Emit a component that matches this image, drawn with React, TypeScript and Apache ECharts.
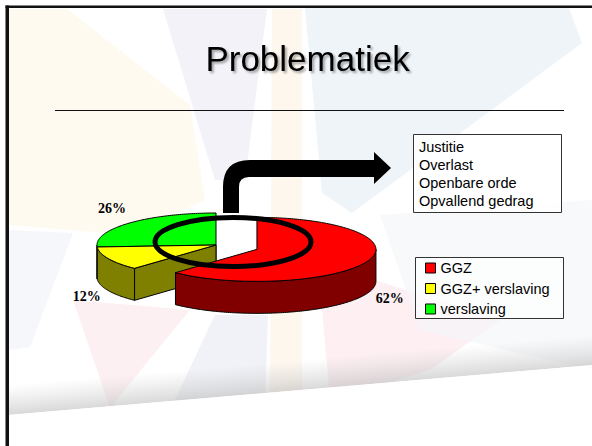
import React, { useEffect, useRef } from 'react';
import * as echarts from 'echarts';

// ---- data ----
const categories = ['GGZ', 'GGZ+ verslaving', 'verslaving'];
const values = [62, 12, 26];
const topColors = ['#ff0000', '#ffff00', '#00ff00'];
const sideColors = ['#800000', '#808000', '#008000'];
const explodedCategory = 'GGZ';
const titleText = 'Problematiek';
const noteLines = ['Justitie', 'Overlast', 'Openbare orde', 'Opvallend gedrag'];

// ---- shapes ----
const ARROW_D =
  'M223,213 L223,187 Q223,160 250,160 L374,160 L374,152 L391,168 L374,184 L374,177 L249,177 Q239,177 239,187 L239,213 Z';
echarts.graphic.registerShape('bendArrow', echarts.graphic.extendPath(ARROW_D, {}));

const CX = 216, CY = 245, RX = 119, RY = 32, DEPTH = 32, EXPLODE = 0.37;
const total = values.reduce((a, b) => a + b, 0);

function sliceGeom(i: number) {
  let cum = 0;
  for (let k = 0; k < i; k++) cum += values[k];
  const a0 = (cum / total) * Math.PI * 2;
  const a1 = ((cum + values[i]) / total) * Math.PI * 2;
  const am = (a0 + a1) / 2;
  const ex = categories[i] === explodedCategory ? EXPLODE : 0;
  const cx = CX + ex * RX * Math.sin(am);
  const cy = CY - ex * RY * Math.cos(am);
  return { a0, a1, am, cx, cy };
}

function arcPts(cx: number, cy: number, from: number, to: number, dz: number) {
  const n = Math.max(2, Math.ceil(Math.abs(to - from) / (Math.PI / 180)));
  const pts: number[][] = [];
  for (let j = 0; j <= n; j++) {
    const a = from + ((to - from) * j) / n;
    pts.push([cx + RX * Math.sin(a), cy - RY * Math.cos(a) + dz]);
  }
  return pts;
}

function makeRenderItem(i: number) {
  return (params: any, api: any) => {
    const v = api.value(0);
    const { a0, a1, am, cx, cy } = sliceGeom(i);
    const children: any[] = [];
    let z2 = 0;
    const poly = (points: number[][], fill: string) => ({
      type: 'polygon',
      z2: z2++,
      shape: { points },
      style: { fill, stroke: '#000', lineWidth: 1, lineJoin: 'round' },
    });
    const P = (a: number, dz: number) => [cx + RX * Math.sin(a), cy - RY * Math.cos(a) + dz];
    if (Math.sin(a0) < -1e-6) {
      children.push(poly([[cx, cy], P(a0, 0), P(a0, DEPTH), [cx, cy + DEPTH]], sideColors[i]));
    }
    if (Math.sin(a1) > 1e-6) {
      children.push(poly([[cx, cy], P(a1, 0), P(a1, DEPTH), [cx, cy + DEPTH]], sideColors[i]));
    }
    const s = Math.max(a0, Math.PI / 2);
    const e = Math.min(a1, Math.PI * 1.5);
    if (e > s) {
      const top = arcPts(cx, cy, s, e, 0);
      const bot = arcPts(cx, cy, e, s, DEPTH);
      children.push(poly([...top, ...bot], sideColors[i]));
    }
    children.push(poly([[cx, cy], ...arcPts(cx, cy, a0, a1, 0)], topColors[i]));
    const lx = cx + 1.2 * RX * Math.sin(am);
    const ly = cy - 1.2 * RY * Math.cos(am) + (Math.cos(am) < 0 ? DEPTH + 3 : -10);
    children.push({
      type: 'text',
      z2: z2++,
      style: {
        text: Math.round((v / total) * 100) + '%',
        x: lx,
        y: ly,
        fill: '#000',
        font: 'bold 14px "Liberation Serif", "Times New Roman", serif',
        align: 'center',
        verticalAlign: 'middle',
      },
    });
    return { type: 'group', children };
  };
}

const bgPolys: { pts: number[][]; color: string }[] = [
  { pts: [[9, 9], [67, 9], [190, 105], [205, 200], [130, 235], [9, 225]], color: '#fdf6e6' },
  { pts: [[163, 9], [267, 9], [245, 180], [215, 180]], color: '#e9eaf3' },
  { pts: [[305, 8], [569, 8], [582, 43], [352, 213], [322, 193]], color: '#e5edf5' },
  { pts: [[272, 9], [302, 9], [302, 400], [270, 400]], color: '#fcf2e3' },
  { pts: [[318, 262], [500, 320], [430, 370], [330, 400]], color: '#fbe5ea' },
  { pts: [[73, 300], [190, 310], [110, 408]], color: '#fbe6ea' },
  { pts: [[215, 315], [268, 315], [265, 400], [170, 410]], color: '#e8e9f2' },
  { pts: [[9, 230], [73, 233], [30, 347], [9, 350]], color: '#eff1f6' },
  { pts: [[380, 215], [592, 200], [592, 370], [420, 330]], color: '#f4f5f8' },
];

export default function App() {
  const ref = useRef<HTMLDivElement>(null);
  useEffect(() => {
    if (!ref.current) return;
    const chart = echarts.init(ref.current, null, { renderer: 'svg' });
    const graphic: any[] = [];
    bgPolys.forEach((p) =>
      graphic.push({
        type: 'polygon',
        z: 0,
        silent: true,
        shape: { points: p.pts },
        style: { fill: p.color, opacity: 0.6 },
      })
    );
    // bottom wave shading
    graphic.push({
      type: 'rect',
      z: 0,
      x: 8,
      y: 415,
      rotation: Math.atan2(50, 584),
      shape: { x: 0, y: -30, width: 640, height: 30 },
      style: {
        fill: new echarts.graphic.LinearGradient(0, 0, 0, 1, [
          { offset: 0, color: 'rgba(200,200,200,0)' },
          { offset: 1, color: 'rgba(185,185,185,0.55)' },
        ]),
      },
    });
    graphic.push({
      type: 'polygon',
      z: 0,
      shape: { points: [[8, 415], [592, 365], [592, 446], [8, 446]] },
      style: { fill: '#ffffff' },
    });
    // slide border
    graphic.push({ type: 'rect', z: 1, shape: { x: 5.5, y: 5.5, width: 3.5, height: 441 }, style: { fill: '#111' } });
    graphic.push({ type: 'rect', z: 1, shape: { x: 5.5, y: 5.5, width: 587, height: 2.5 }, style: { fill: '#111' } });
    // title rule
    graphic.push({ type: 'line', z: 1, shape: { x1: 55, y1: 110.5, x2: 564, y2: 110.5 }, style: { stroke: '#111', lineWidth: 1 } });
    // note box
    graphic.push({
      type: 'rect',
      z: 3,
      shape: { x: 413.5, y: 134.5, width: 148, height: 78 },
      style: { fill: 'rgba(255,255,255,0.85)', stroke: '#333', lineWidth: 1 },
    });
    graphic.push({
      type: 'text',
      z: 4,
      style: {
        text: noteLines.join('\n'),
        x: 419,
        y: 138,
        lineHeight: 18,
        fill: '#000',
        font: '14.5px "Liberation Sans", Arial, sans-serif',
        verticalAlign: 'top',
      },
    });
    // legend box
    graphic.push({
      type: 'rect',
      z: 3,
      shape: { x: 415.5, y: 257.5, width: 148, height: 61 },
      style: { fill: 'rgba(255,255,255,0.6)', stroke: '#333', lineWidth: 1 },
    });
    // arrow & ring
    graphic.push({ type: 'bendArrow', z: 10, x: 0, y: 0, style: { fill: '#000' } });
    graphic.push({
      type: 'ellipse',
      z: 11,
      shape: { cx: 233, cy: 242, rx: 78, ry: 24.5 },
      style: { fill: 'none', stroke: '#000', lineWidth: 5 },
    });

    chart.setOption({
      animation: false,
      backgroundColor: '#ffffff',
      title: {
        text: titleText,
        left: 307.5,
        top: 41,
        textAlign: 'center',
        padding: 0,
        textStyle: {
          fontFamily: '"Liberation Sans", Arial, sans-serif',
          fontSize: 35,
          fontWeight: 'normal',
          color: '#000',
          textShadowColor: 'rgba(0,0,0,0.35)',
          textShadowBlur: 2,
          textShadowOffsetX: 2,
          textShadowOffsetY: 2,
        },
      },
      legend: {
        data: categories,
        orient: 'vertical',
        left: 425,
        top: 260,
        padding: 0,
        itemWidth: 10,
        itemHeight: 10,
        itemGap: 4.5,
        icon: 'rect',
        selectedMode: false,
        itemStyle: { borderColor: '#000', borderWidth: 1 },
        textStyle: {
          fontFamily: '"Liberation Sans", Arial, sans-serif',
          fontSize: 14.5,
          lineHeight: 16,
          color: '#000',
        },
      },
      graphic,
      series: [2, 1, 0].map((i) => ({
        type: 'custom',
        name: categories[i],
        coordinateSystem: 'none',
        data: [values[i]],
        z: 4 - i,
        itemStyle: { color: topColors[i] },
        renderItem: makeRenderItem(i),
      })),
    });
    return () => chart.dispose();
  }, []);
  return (
    <div
      ref={ref}
      style={{ position: 'fixed', left: 0, top: 0, width: 592, height: 446 }}
    />
  );
}
